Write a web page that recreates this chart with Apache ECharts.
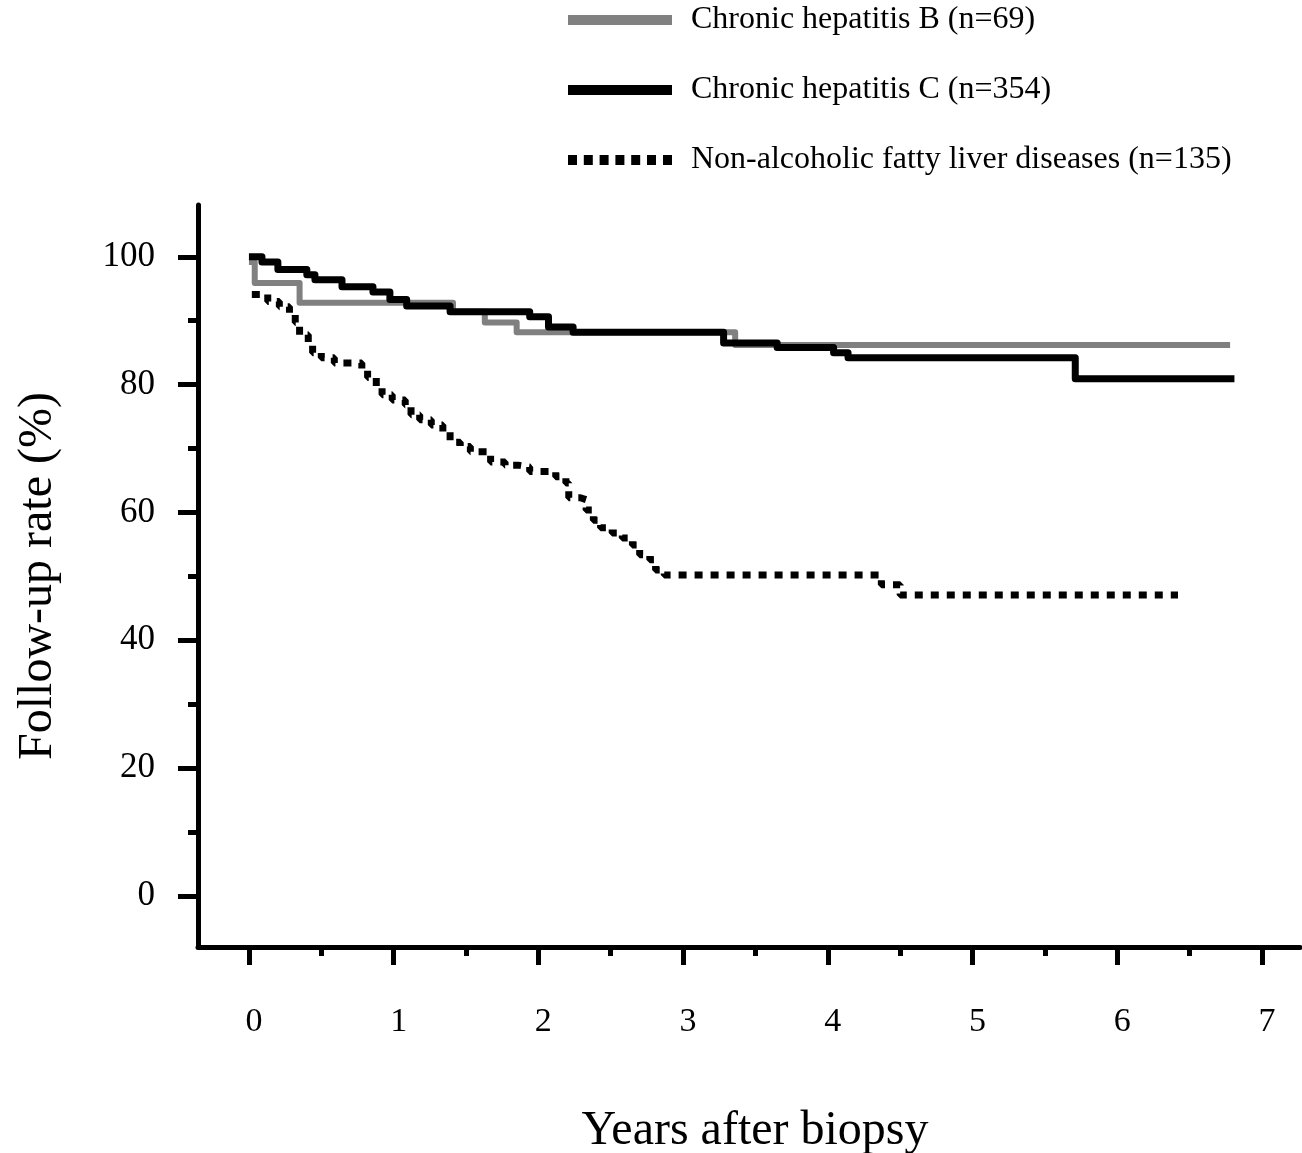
<!DOCTYPE html>
<html>
<head>
<meta charset="utf-8">
<script src="https://cdn.jsdelivr.net/npm/echarts@6/dist/echarts.min.js"></script>
<style>
  html, body { margin: 0; padding: 0; background: #fff; }
  #chart { width: 1302px; height: 1153px; }
</style>
</head>
<body>
<div id="chart"></div>
<script>
// 数据
const seriesNames = ['Chronic hepatitis B (n=69)', 'Chronic hepatitis C (n=354)', 'Non-alcoholic fatty liver diseases (n=135)']

const chbYears = [0, 0.04, 0.35, 1.41, 1.63, 1.85, 3.36, 6.78]
const chbRates = [99.2, 95.9, 92.8, 91.4, 89.7, 88.2, 86.2, 86.2]

const chcYears = [0, 0.09, 0.20, 0.40, 0.456, 0.643, 0.857, 0.974, 1.09, 1.39, 1.94, 2.07, 2.24, 3.28, 3.65, 4.04, 4.14, 5.71, 6.81]
const chcRates = [100, 99.2, 98.0, 97.2, 96.4, 95.3, 94.5, 93.3, 92.3, 91.4, 90.6, 89.0, 88.2, 86.5, 85.8, 85.0, 84.2, 80.9, 80.9]

const nafldYears = [0.02, 0.13, 0.21, 0.28, 0.32, 0.35, 0.41, 0.44, 0.50, 0.59, 0.78, 0.82, 0.88, 0.92, 0.99, 1.08, 1.12, 1.18, 1.26, 1.34, 1.39, 1.46, 1.53, 1.67, 1.77, 1.86, 1.94, 2.12, 2.19, 2.21, 2.29, 2.33, 2.38, 2.43, 2.51, 2.58, 2.65, 2.70, 2.77, 2.81, 2.87, 4.37, 4.50, 6.42]
const nafldRates = [94.1, 93.0, 92.2, 91.2, 89.7, 87.8, 86.5, 85.0, 84.2, 83.4, 82.3, 81.1, 79.7, 78.4, 77.6, 76.8, 75.3, 74.5, 73.7, 72.6, 71.0, 70.3, 69.5, 67.9, 67.4, 67.1, 66.4, 65.6, 64.6, 62.3, 62.0, 60.4, 58.8, 57.6, 56.8, 56.0, 54.9, 53.4, 52.6, 51.0, 50.2, 48.7, 47.1, 47.1]

const xMajorTicks = [0, 1, 2, 3, 4, 5, 6, 7]
const xMinorTicks = [0.5, 1.5, 2.5, 3.5, 4.5, 5.5, 6.5]
const yMajorTicks = [0, 20, 40, 60, 80, 100]
const yMinorTicks = [10, 30, 50, 70, 90]

const serif = '"Liberation Serif", "Times New Roman", serif'

function pairs(xs, ys) {
  return xs.map((x, i) => [x, ys[i]])
}

// 图例图标
const solidIcon = 'path://M0,0H104V10H0Z'
const dottedIcon = 'path://M0,0h9v10h-9z M15.8,0h9v10h-9z M31.6,0h9v10h-9z M47.4,0h9v10h-9z M63.2,0h9v10h-9z M79,0h9v10h-9z M95,0h9v10h-9z'

const xRange = { min: -0.352, max: 7.263 }
const yRange = { min: -7.98, max: 108.1 }

const chart = echarts.init(document.getElementById('chart'))
chart.setOption({
  backgroundColor: '#fff',
  animation: false,
  textStyle: { fontFamily: serif, color: '#000' },
  grid: { left: 198, right: 2, top: 205, bottom: 206, outerBoundsMode: 'none' },
  legend: {
    orient: 'vertical',
    left: 563,
    top: -1,
    itemWidth: 104,
    itemHeight: 10,
    itemGap: 38,
    data: [
      { name: seriesNames[0], icon: solidIcon, itemStyle: { color: '#808080' } },
      { name: seriesNames[1], icon: solidIcon, itemStyle: { color: '#000' } },
      { name: seriesNames[2], icon: dottedIcon, itemStyle: { color: '#000' } }
    ],
    textStyle: { fontFamily: serif, fontSize: 32, lineHeight: 32, color: '#000', padding: [0, 0, 0, 14] }
  },
  xAxis: [
    {
      type: 'value',
      min: xRange.min,
      max: xRange.max,
      name: 'Years after biopsy',
      nameLocation: 'middle',
      nameGap: 160,
      nameTextStyle: { fontFamily: serif, fontSize: 48, color: '#000', padding: [0, 0, 0, 12] },
      axisLine: { onZero: false, lineStyle: { color: '#000', width: 5 } },
      axisTick: { customValues: xMajorTicks, length: 18, lineStyle: { color: '#000', width: 5 } },
      axisLabel: { customValues: xMajorTicks, margin: 58, fontSize: 34, color: '#000', fontFamily: serif, padding: [0, 0, 0, 10] },
      splitLine: { show: false }
    },
    {
      type: 'value',
      position: 'bottom',
      min: xRange.min,
      max: xRange.max,
      axisLine: { show: false, onZero: false },
      axisTick: { customValues: xMinorTicks, length: 9, lineStyle: { color: '#000', width: 5 } },
      axisLabel: { show: false },
      splitLine: { show: false }
    }
  ],
  yAxis: [
    {
      type: 'value',
      min: yRange.min,
      max: yRange.max,
      name: 'Follow-up rate (%)',
      nameLocation: 'middle',
      nameGap: 136,
      nameTextStyle: { fontFamily: serif, fontSize: 48, color: '#000' },
      axisLine: { onZero: false, lineStyle: { color: '#000', width: 5 } },
      axisTick: { customValues: yMajorTicks, length: 20, lineStyle: { color: '#000', width: 5 } },
      axisLabel: { customValues: yMajorTicks, margin: 43, fontSize: 35, color: '#000', fontFamily: serif },
      splitLine: { show: false }
    },
    {
      type: 'value',
      position: 'left',
      min: yRange.min,
      max: yRange.max,
      axisLine: { show: false, onZero: false },
      axisTick: { customValues: yMinorTicks, length: 10, lineStyle: { color: '#000', width: 5 } },
      axisLabel: { show: false },
      splitLine: { show: false }
    }
  ],
  series: [
    {
      name: seriesNames[0],
      type: 'line',
      step: 'end',
      symbol: 'none',
      data: pairs(chbYears, chbRates),
      lineStyle: { color: '#808080', width: 6, join: 'round' },
      itemStyle: { color: '#808080' },
      z: 2
    },
    {
      name: seriesNames[1],
      type: 'line',
      step: 'end',
      symbol: 'none',
      data: pairs(chcYears, chcRates),
      lineStyle: { color: '#000', width: 7, join: 'round' },
      itemStyle: { color: '#000' },
      z: 3
    },
    {
      name: seriesNames[2],
      type: 'line',
      step: 'end',
      symbol: 'none',
      data: pairs(nafldYears, nafldRates),
      lineStyle: { color: '#000', width: 7, type: [8, 8] },
      itemStyle: { color: '#000' },
      z: 4
    }
  ]
})
</script>
</body>
</html>
